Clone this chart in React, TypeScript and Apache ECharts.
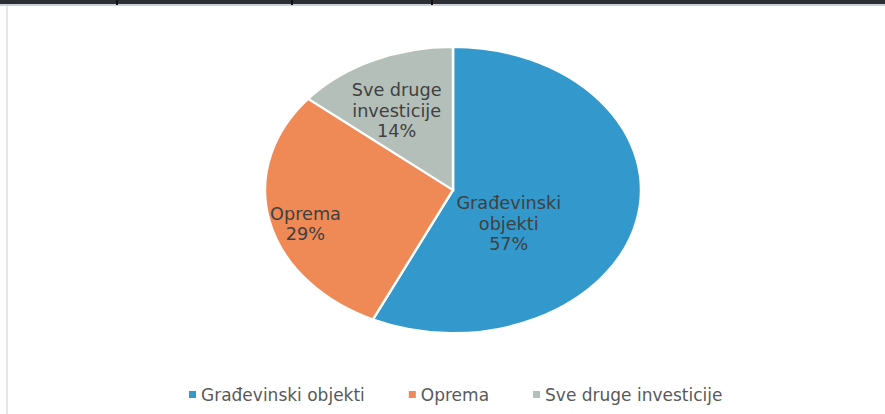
import React, { useEffect, useRef } from "react";
import * as echarts from "echarts";

const categories = ["Građevinski objekti", "Oprema", "Sve druge investicije"];
const labelNames = ["Građevinski\nobjekti", "Oprema", "Sve druge\ninvesticije"];
const shares = [57, 29, 14];

const colors = ["#3399cc", "#ef8a57", "#b5bfb9"];
// label placement: [angle from 12 o'clock clockwise (deg), fraction of radius]
const labelPlace: [number, number][] = [
  [128.7, 0.38],
  [253.1, 0.82],
  [331.6, 0.63],
];

export default function App() {
  const ref = useRef<HTMLDivElement>(null);
  useEffect(() => {
    document.body.style.margin = "0";
    const chart = echarts.init(ref.current!, null, { renderer: "svg" });
    const total = shares.reduce((a, b) => a + b, 0);
    const cx = 453, cy = 190, rx = 188, ry = 143;
    const font = "'DejaVu Sans', 'Open Sans', sans-serif";
    const series = categories.map((name, i) => ({
      type: "custom",
      name,
      coordinateSystem: "none",
      itemStyle: { color: colors[i] },
      data: [shares[i]],
      renderItem: () => {
        const before = shares.slice(0, i).reduce((a, b) => a + b, 0);
        const a0 = -Math.PI / 2 + (2 * Math.PI * before) / total;
        const a1 = -Math.PI / 2 + (2 * Math.PI * (before + shares[i])) / total;
        const [deg, fr] = labelPlace[i];
        const th = (deg * Math.PI) / 180;
        const lx = cx + fr * rx * Math.sin(th);
        const ly = cy - fr * ry * Math.cos(th);
        return {
          type: "group",
          children: [
            {
              type: "group",
              x: cx,
              y: cy,
              scaleY: ry / rx,
              children: [
                {
                  type: "sector",
                  shape: { cx: 0, cy: 0, r0: 0, r: rx, startAngle: a0, endAngle: a1, clockwise: true },
                  style: { fill: colors[i], stroke: "#ffffff", lineWidth: 2.5, strokeNoScale: true },
                },
              ],
            },
            {
              type: "text",
              x: lx,
              y: ly,
              scaleX: 1.04,
              style: {
                text: labelNames[i] + "\n" + shares[i] + "%",
                fill: "#404040",
                font: `17px ${font}`,
                lineHeight: 20.5,
                align: "center",
                verticalAlign: "middle",
              },
            },
          ],
        };
      },
    }));
    chart.setOption({
      animation: false,
      backgroundColor: "#ffffff",
      legend: {
        data: categories,
        top: 381,
        left: 184,
        icon: "rect",
        itemWidth: 7,
        itemHeight: 7,
        itemGap: 44,
        textStyle: { color: "#595959", fontSize: 17, fontFamily: font },
      },
      graphic: [
        { type: "rect", shape: { x: 0, y: 0, width: 885, height: 4 }, style: { fill: "#2b2f33" } },
        { type: "rect", shape: { x: 0, y: 4, width: 885, height: 2 }, style: { fill: "#c9d1d6" } },
        { type: "rect", shape: { x: 6, y: 6, width: 2, height: 408 }, style: { fill: "#e3e8e8" } },
        { type: "rect", shape: { x: 116, y: 0, width: 2, height: 5 }, style: { fill: "#111" } },
        { type: "rect", shape: { x: 291, y: 0, width: 2, height: 5 }, style: { fill: "#111" } },
        { type: "rect", shape: { x: 431, y: 0, width: 2, height: 5 }, style: { fill: "#111" } },
      ],
      series,
    });
    return () => chart.dispose();
  }, []);
  return <div ref={ref} style={{ width: 885, height: 414 }} />;
}
